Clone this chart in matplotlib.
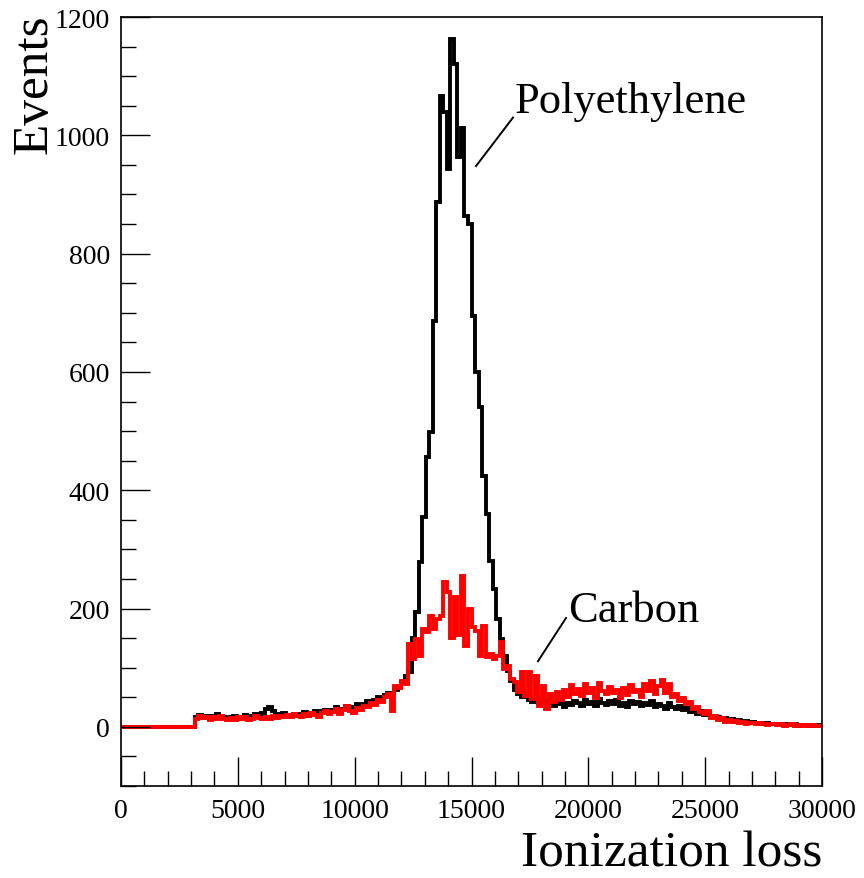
import numpy as np
import matplotlib
matplotlib.use("Agg")
import matplotlib.pyplot as plt

# Histogram binning: 200 bins of width 150 between 0 and 30000
bin_edges = np.linspace(0, 30000, 201)

# Polyethylene (black), 10 bins per row
polyethylene = [
	0, 0, 0, 0, 0, 0, 0, 0, 0, 0,
	0, 0, 0, 0, 0, 0, 0, 0, 0, 0,
	0, 16, 20, 17, 19, 14, 18, 21, 15, 17,
	13, 16, 19, 14, 17, 20, 15, 18, 22, 19,
	24, 30, 33, 26, 22, 19, 23, 17, 20, 22,
	18, 21, 25, 19, 23, 27, 22, 26, 29, 24,
	28, 33, 27, 31, 36, 30, 34, 38, 33, 39,
	44, 38, 45, 50, 46, 53, 58, 55, 62, 68,
	75, 86, 92, 150, 194, 279, 355, 457, 498, 686,
	888, 1066, 1040, 943, 1162, 1120, 963, 1013, 863, 850,
	694, 600, 540, 424, 360, 280, 233, 182, 149, 120,
	95, 78, 62, 55, 50, 58, 45, 42, 48, 40,
	44, 38, 46, 35, 42, 39, 33, 41, 37, 44,
	40, 36, 45, 38, 42, 35, 47, 40, 37, 43,
	39, 45, 36, 41, 34, 44, 38, 42, 35, 40,
	37, 43, 33, 39, 36, 31, 40, 34, 30, 35,
	28, 32, 25, 29, 22, 26, 20, 23, 18, 16,
	17, 13, 15, 11, 13, 9, 11, 8, 10, 7,
	8, 6, 7, 5, 6, 4, 5, 4, 5, 3,
	4, 3, 4, 2, 3, 3, 2, 3, 2, 3,
]

# Carbon (red)
carbon = [
	0, 0, 0, 0, 0, 0, 0, 0, 0, 0,
	0, 0, 0, 0, 0, 0, 0, 0, 0, 0,
	0, 14, 18, 15, 17, 12, 16, 13, 18, 14,
	12, 15, 11, 16, 13, 17, 12, 14, 18, 15,
	13, 17, 14, 19, 15, 18, 16, 20, 17, 21,
	18, 16, 22, 19, 24, 20, 17, 23, 26, 21,
	25, 30, 22, 28, 35, 27, 24, 32, 29, 36,
	33, 40, 37, 45, 42, 50, 55, 27, 69, 66,
	78, 72, 140, 115, 149, 120, 166, 160, 187, 165,
	182, 187, 245, 228, 150, 220, 155, 255, 137, 200,
	169, 162, 120, 171, 118, 123, 115, 120, 143, 98,
	103, 81, 76, 59, 93, 52, 93, 47, 86, 35,
	69, 30, 55, 42, 59, 45, 62, 50, 70, 56,
	64, 52, 72, 58, 66, 49, 74, 60, 55, 68,
	57, 63, 48, 66, 54, 70, 59, 62, 51, 73,
	60, 78, 56, 69, 80, 58, 72, 50, 55, 44,
	48, 38, 42, 30, 34, 25, 22, 26, 15, 18,
	12, 15, 9, 12, 8, 10, 6, 9, 5, 7,
	6, 4, 7, 5, 3, 5, 4, 3, 5, 2,
	3, 4, 2, 3, 2, 3, 1, 3, 2, 2,
]

x_ticks = [0, 5000, 10000, 15000, 20000, 25000, 30000]
y_ticks = [0, 200, 400, 600, 800, 1000, 1200]

# Label positions (data coords): text anchor and leader-line ends
poly_label = (16862, 1040)
poly_line = ([15193, 16776], [948, 1030])
carbon_label = (19130, 179)
carbon_line = ([17846, 19044], [111, 184])

serif = "Liberation Serif"

fig = plt.figure(figsize=(8.64, 8.79), dpi=100)
ax = fig.add_axes([121/864, 1-787/879, 701/864, 769/879])

ax.stairs(polyethylene, bin_edges, baseline=None, color="black", linewidth=2.8)
ax.stairs(carbon, bin_edges, baseline=None, color="#ff0000", linewidth=2.8)

ax.set_xlim(0, 30000)
ax.set_ylim(-100, 1200)
ax.set_xticks(x_ticks)
ax.set_yticks(y_ticks)
ax.set_xticks(np.arange(0, 30001, 1000), minor=True)
ax.set_yticks(np.arange(-100, 1201, 50), minor=True)
ax.tick_params(which="both", direction="in", top=False, right=False, width=1)
ax.tick_params(which="major", length=21)
ax.tick_params(which="minor", length=11)
ax.tick_params(axis="x", pad=9)
ax.tick_params(axis="y", pad=8)
for lbl in ax.get_xticklabels() + ax.get_yticklabels():
	lbl.set_fontfamily(serif)
	lbl.set_fontsize(20)
for s in ax.spines.values():
	s.set_linewidth(1.2)

# Annotations
ax.plot(*poly_line, color="black", linewidth=1.4)
ax.text(*poly_label, "Polyethylene", family=serif, fontsize=32, ha="left", va="baseline")
ax.plot(*carbon_line, color="black", linewidth=1.4)
ax.text(*carbon_label, "Carbon", family=serif, fontsize=32, ha="left", va="baseline")

# Axis titles (ROOT style)
fig.text(58/864, 1-14/879, "Events", family=serif, fontsize=37, rotation=90, ha="right", va="top")
fig.text(822/864, 1-867/879, "Ionization loss", family=serif, fontsize=37, ha="right", va="baseline")

fig.savefig("out.png", dpi=100)
